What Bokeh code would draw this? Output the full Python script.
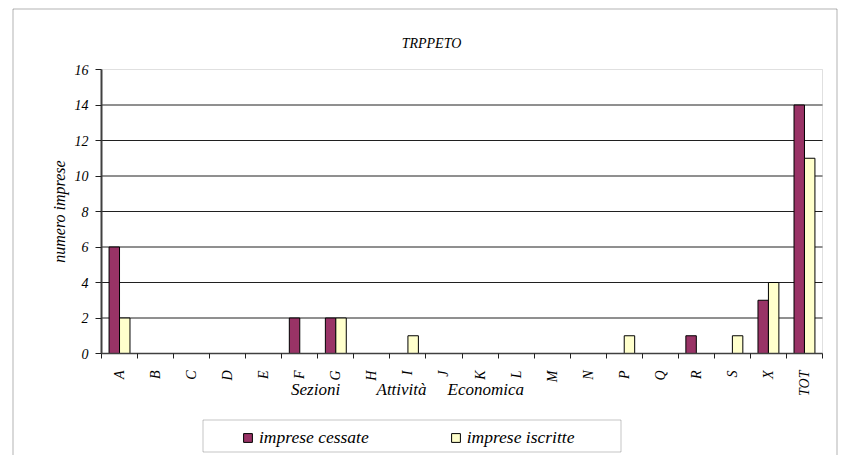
import numpy as np
from math import pi
from bokeh.plotting import figure
from bokeh.models import (ColumnDataSource, FixedTicker, Range1d, Legend, LegendItem,
                          Label, BoxAnnotation)
from bokeh.embed import file_html
from bokeh.resources import INLINE

# ---- data ----
categories = ["A", "B", "C", "D", "E", "F", "G", "H", "I", "J", "K", "L",
              "M", "N", "P", "Q", "R", "S", "X", "TOT"]
imprese_cessate = [6, 0, 0, 0, 0, 2, 2, 0, 0, 0, 0, 0, 0, 0, 0, 0, 1, 0, 3, 14]
imprese_iscritte = [2, 0, 0, 0, 0, 0, 2, 0, 1, 0, 0, 0, 0, 0, 1, 0, 0, 1, 4, 11]
y_ticks = [0, 2, 4, 6, 8, 10, 12, 14, 16]
title_text = "TRPPETO"
y_title = "numero imprese"
x_title_words = ["Sezioni", "Attività", "Economica"]
series_names = ["imprese cessate", "imprese iscritte"]

COL_CESS = "#993366"
COL_ISCR = "#FFFFCC"
FONT = "Liberation Serif"

# ---- layout (canvas pixels) ----
W, H = 841, 455
PL, PR, PT, PB = 101, 822, 69, 353      # plot area edges
n = len(categories)
x_lo, x_hi = -0.5, n - 0.5
y_lo, y_hi = y_ticks[0], y_ticks[-1]
sx = (PR - PL) / (x_hi - x_lo)
sy = (PB - PT) / (y_hi - y_lo)
xr = Range1d(x_lo - PL / sx, x_hi + (W - PR) / sx)
yr = Range1d(y_lo - (H - PB) / sy, y_hi + PT / sy)

def dx(px):
    return xr.start + px / sx

def dy(py):
    return yr.end - py / sy

p = figure(width=W, height=H, output_backend="svg", toolbar_location=None,
           x_range=xr, y_range=yr, title=None,
           min_border_left=0, min_border_right=0, min_border_top=0, min_border_bottom=0,
           background_fill_color="white", border_fill_color="white",
           outline_line_color=None)

# plot-area border (grey top/right)
p.add_layout(BoxAnnotation(left=x_lo, right=x_hi, bottom=y_lo, top=y_hi,
                           fill_alpha=0, line_color="#999999", line_width=1,
                           level="underlay"))

# horizontal gridlines
gy = np.array(y_ticks[1:-1], dtype=float)
p.segment(x0=np.full(len(gy), x_lo), x1=np.full(len(gy), x_hi), y0=gy, y1=gy,
          line_color="#202020", line_width=1)

idx = np.arange(n)
bw = 0.29
off = 0.145

def src(vals, shift):
    vals = np.asarray(vals)
    m = vals > 0
    return ColumnDataSource(dict(x=idx[m] + shift, top=vals[m]))

r1 = p.vbar(x="x", top="top", width=bw, source=src(imprese_cessate, -off),
            fill_color=COL_CESS, line_color="black", line_width=1)
r2 = p.vbar(x="x", top="top", width=bw, source=src(imprese_iscritte, off),
            fill_color=COL_ISCR, line_color="black", line_width=1)

p.xgrid.visible = False
p.ygrid.visible = False

# y axis
ya = p.yaxis[0]
ya.fixed_location = x_lo
ya.bounds = (y_lo, y_hi)
ya.ticker = FixedTicker(ticks=y_ticks)
ya.axis_line_color = "#404040"
ya.axis_line_width = 2
ya.major_tick_out = 6
ya.major_tick_in = 0
ya.major_tick_line_color = "#202020"
ya.minor_tick_line_color = None
ya.major_label_text_font = FONT
ya.major_label_text_font_style = "italic"
ya.major_label_text_font_size = "14px"
ya.major_label_text_color = "black"
ya.major_label_standoff = 7
ya.axis_label = y_title
ya.axis_label_text_font = FONT
ya.axis_label_text_font_style = "italic"
ya.axis_label_text_font_size = "16px"
ya.axis_label_text_color = "black"
ya.axis_label_standoff = 4

# x axis: labels at centres, ticks at category boundaries (minor ticks)
xa = p.xaxis[0]
xa.fixed_location = y_lo
xa.bounds = (x_lo, x_hi)
xa.ticker = FixedTicker(ticks=list(idx), minor_ticks=list(np.arange(n + 1) - 0.5))
xa.major_label_overrides = {int(i): c for i, c in zip(idx, categories)}
xa.major_label_orientation = pi / 2
xa.major_tick_out = 0
xa.major_tick_in = 0
xa.minor_tick_out = 5
xa.minor_tick_in = 0
xa.minor_tick_line_color = "#202020"
xa.axis_line_color = "#404040"
xa.axis_line_width = 1.5
xa.major_label_text_font = FONT
xa.major_label_text_font_style = "italic"
xa.major_label_text_font_size = "14px"
xa.major_label_text_color = "black"
xa.major_label_standoff = 12

# outer chart border
p.add_layout(BoxAnnotation(left=dx(12.5), right=dx(836.5), top=dy(8.5), bottom=dy(H + 20),
                           fill_alpha=0, line_color="black", line_width=1))

# title
p.add_layout(Label(x=dx(431), y=dy(43), text=title_text,
                   text_font=FONT, text_font_style="italic", text_font_size="14px",
                   text_align="center", text_baseline="middle", text_color="black"))

# x title words
for word, xpos in zip(x_title_words, [290.5, 376, 447]):
    p.add_layout(Label(x=dx(xpos), y=dy(389), text=word,
                       text_font=FONT, text_font_style="italic", text_font_size="17px",
                       text_align="left", text_baseline="middle", text_color="black"))

# legend frame
p.add_layout(BoxAnnotation(left=dx(202.5), right=dx(620.5), top=dy(419.5), bottom=dy(451.5),
                           fill_color="white", fill_alpha=1, line_color="#404040", line_width=1))

legend = Legend(items=[LegendItem(label=series_names[0], renderers=[r1]),
                       LegendItem(label=series_names[1], renderers=[r2])],
                location=(242, 7.5), orientation="horizontal",
                padding=0, margin=0, spacing=81, label_standoff=6,
                glyph_width=11, glyph_height=11,
                label_text_font=FONT, label_text_font_style="italic",
                label_text_font_size="17.5px", label_text_color="black",
                border_line_color=None, background_fill_alpha=0)
p.add_layout(legend, "center")

open("out.html", "w").write(file_html(p, INLINE))
